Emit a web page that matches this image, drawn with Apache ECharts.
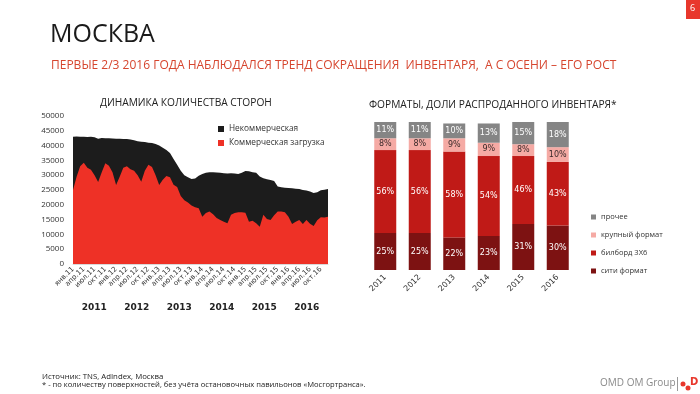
<!DOCTYPE html>
<html><head><meta charset="utf-8">
<script src="https://cdn.jsdelivr.net/npm/echarts@6/dist/echarts.min.js"></script>
<style>html,body{margin:0;padding:0;background:#fff}#c{width:700px;height:394px}</style>
</head><body><div id="c"></div>
<script>
const monthNames = ['янв','фев','мар','апр','май','июн','июл','авг','сен','окт','ноя','дек'];
const yearSuffixes = ['11','12','13','14','15','16'];
const yearLabels = ['2011','2012','2013','2014','2015','2016'];

// total number of sides (top of black area), monthly Jan 2011 – Dec 2016
const totalSides = [43000,43100,43000,43000,42900,43000,42800,42300,42600,42500,42500,42400,
  42300,42300,42200,42200,42100,41800,41500,41300,41200,41000,40900,40500,
  40000,39300,38500,37500,35500,33500,31500,30000,29300,28700,28900,29800,
  30400,30800,31000,31000,30900,30800,30700,30600,30700,30600,30400,30800,
  31400,31300,31000,30800,29600,29000,28600,28400,28000,26200,25900,25800,
  25700,25600,25400,25300,25000,24800,24500,24000,24200,24900,25100,25300];
// commercial load
const commercialSides = [25000,29500,33000,34200,32500,31800,30000,27700,31000,34000,33200,31000,
  26700,29500,32500,33000,32000,31500,30000,27800,31500,33500,32800,30000,
  26700,28500,29700,29300,26800,26000,23000,21500,20800,19800,19200,18800,
  16000,17200,17700,16800,15500,14900,14300,13800,16600,17200,17500,17500,
  17300,14300,14600,13800,12600,16600,15200,14900,16500,17700,17700,17500,
  16000,13500,14300,14900,13500,14900,13600,12800,14800,15800,15700,16000];

const formatYears = ['2011','2012','2013','2014','2015','2016'];
const cityFormat = [25,25,22,23,31,30];
const billboard = [56,56,58,54,46,43];
const largeFormat = [8,8,9,9,8,10];
const otherFormat = [11,11,10,13,15,18];

const months = [];
yearSuffixes.forEach(y => monthNames.forEach(m => months.push(m + '.' + y)));

const narrow = '"Open Sans",sans-serif';
const chart = echarts.init(document.getElementById('c'), null, {renderer:'canvas'});
const barLabel = (col) => ({show:true, position:'inside', formatter:'{c}%', color:col, fontSize:8, fontFamily:'DejaVu Sans'});
chart.setOption({
  backgroundColor:'#fff',
  animation:false,
  title:[
    {text:'МОСКВА', left:45, top:17, textStyle:{fontSize:25, fontWeight:'normal', color:'#1a1a1a', fontFamily:narrow}},
    {text:'ПЕРВЫЕ 2/3 2016 ГОДА НАБЛЮДАЛСЯ ТРЕНД СОКРАЩЕНИЯ  ИНВЕНТАРЯ,  А С ОСЕНИ – ЕГО РОСТ', left:46, top:55, textStyle:{fontSize:12, fontWeight:'normal', color:'#d6452e', fontFamily:narrow}},
    {text:'ДИНАМИКА КОЛИЧЕСТВА СТОРОН', left:95, top:93, textStyle:{fontSize:10.2, fontWeight:'normal', color:'#222', fontFamily:narrow}},
    {text:'ФОРМАТЫ, ДОЛИ РАСПРОДАННОГО ИНВЕНТАРЯ*', left:364, top:95, textStyle:{fontSize:10.2, fontWeight:'normal', color:'#222', fontFamily:narrow}}
  ],
  legend:[
    {orient:'vertical', left:213, top:120, itemWidth:6, itemHeight:6, itemGap:6, icon:'rect',
     data:['Некоммерческая','Коммерческая загрузка'], textStyle:{fontSize:8.3, color:'#333', fontFamily:narrow}},
    {orient:'vertical', left:586, top:208, itemWidth:5, itemHeight:5, itemGap:10, icon:'rect',
     data:['прочее','крупный формат','билборд 3Х6','сити формат'], textStyle:{fontSize:7.5, color:'#333', fontFamily:narrow}}
  ],
  grid:[
    {left:73, width:255, top:116, height:148},
    {left:368, width:207, top:122, height:148}
  ],
  xAxis:[
    {gridIndex:0, type:'category', boundaryGap:false, data:months,
     axisLine:{show:true, lineStyle:{color:'#d9d9d9'}}, axisTick:{show:false},
     axisLabel:{interval:2, rotate:45, fontSize:7, color:'#333', margin:4, fontFamily:'DejaVu Sans'}},
    {gridIndex:0, type:'category', boundaryGap:true, data:yearLabels, position:'bottom', offset:31,
     axisLine:{show:false}, axisTick:{show:false},
     axisLabel:{fontSize:9, fontWeight:'bold', color:'#222', fontFamily:'DejaVu Sans'}},
    {gridIndex:1, type:'category', data:formatYears,
     axisLine:{show:false}, axisTick:{show:false},
     axisLabel:{rotate:45, fontSize:8, color:'#333', margin:6, fontFamily:'DejaVu Sans'}}
  ],
  yAxis:[
    {gridIndex:0, type:'value', min:0, max:50000, interval:5000,
     axisLine:{show:false}, axisTick:{show:false}, splitLine:{show:false},
     axisLabel:{fontSize:8, color:'#333', margin:9, fontFamily:narrow, formatter:(v)=>String(v)}},
    {gridIndex:1, type:'value', min:0, max:100, show:false, splitLine:{show:false}}
  ],
  series:[
    {name:'Некоммерческая', type:'line', xAxisIndex:0, yAxisIndex:0, data:totalSides, showSymbol:false,
     lineStyle:{width:0}, itemStyle:{color:'#1c1c1c'}, areaStyle:{color:'#1c1c1c', opacity:1}},
    {name:'Коммерческая загрузка', type:'line', xAxisIndex:0, yAxisIndex:0, data:commercialSides, showSymbol:false,
     lineStyle:{width:0}, itemStyle:{color:'#ee3126'}, areaStyle:{color:'#ee3126', opacity:1}},
    {name:'сити формат', type:'bar', stack:'f', xAxisIndex:2, yAxisIndex:1, data:cityFormat, barWidth:22,
     itemStyle:{color:'#7d1212'}, label:barLabel('#fff')},
    {name:'билборд 3Х6', type:'bar', stack:'f', xAxisIndex:2, yAxisIndex:1, data:billboard, barWidth:22,
     itemStyle:{color:'#c01a17'}, label:barLabel('#fff')},
    {name:'крупный формат', type:'bar', stack:'f', xAxisIndex:2, yAxisIndex:1, data:largeFormat, barWidth:22,
     itemStyle:{color:'#f5aaa4'}, label:barLabel('#3a2a2a')},
    {name:'прочее', type:'bar', stack:'f', xAxisIndex:2, yAxisIndex:1, data:otherFormat, barWidth:22,
     itemStyle:{color:'#858585'}, label:barLabel('#fff')}
  ],
  graphic:[
    {type:'rect', left:686, top:0, shape:{width:14, height:19}, style:{fill:'#e8372c'}},
    {type:'text', left:690, top:4, style:{text:'6', fill:'#fff', fontSize:9, fontFamily:narrow}},
    {type:'text', left:42, top:373, style:{text:'Источник: TNS, AdIndex, Москва', fill:'#222', fontSize:7.8, fontFamily:narrow}},
    {type:'text', left:42, top:381, style:{text:'* - по количеству поверхностей, без учёта остановочных павильонов «Мосгортранса».', fill:'#222', fontSize:7.6, fontFamily:narrow}},
    {type:'text', left:600, top:378, style:{text:'OMD OM Group', fill:'#8a8a8a', fontSize:10, fontFamily:narrow}},
    {type:'rect', left:677, top:377, shape:{width:1, height:14}, style:{fill:'#999'}},
    {type:'circle', shape:{cx:683, cy:384, r:2.5}, style:{fill:'#e8372c'}},
    {type:'circle', shape:{cx:688, cy:388, r:2.5}, style:{fill:'#e8372c'}},
    {type:'text', left:690, top:377, style:{text:'D', fill:'#e8372c', fontSize:10, fontWeight:'bold', fontFamily:'DejaVu Sans'}}
  ]
});
</script></body></html>
